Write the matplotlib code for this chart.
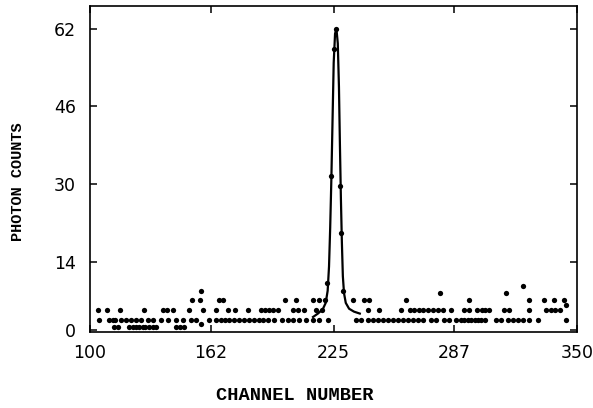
import numpy as np
import matplotlib
matplotlib.use("Agg")
from matplotlib import pyplot as plt

# photon counts per channel, grouped by the level they sit at
ch_low = [112.5, 114.2, 119.9, 121.9, 123.6, 125.3, 127.1, 128.4, 130.2, 132.2,
          133.9, 144.2, 146.4, 148.4]
cnt_low = [0.5] * len(ch_low)

ch_two = [104.5, 109.9, 111.7, 113.0, 115.9, 118.5, 121.1, 123.6, 126.2, 129.6,
          132.2, 136.5, 139.9, 144.2, 147.9, 151.9, 154.4, 157.0, 161.0, 164.7,
          167.3, 169.5, 171.5, 174.1, 176.7, 179.2, 181.8, 184.4, 186.6, 188.7,
          191.2, 194.6, 198.6, 201.5, 204.1, 207.5, 210.9, 214.3, 217.7, 222.0,
          236.6, 239.1, 242.6, 245.2, 247.7, 250.3, 252.9, 255.4, 258.0, 260.6,
          263.1, 265.7, 268.3, 271.1, 275.1, 277.7, 281.9, 284.5, 287.9, 290.5,
          292.2, 294.0, 295.7, 297.4, 299.1, 300.8, 303.0, 308.4, 311.0, 314.4,
          317.0, 319.6, 322.1, 325.5, 329.9, 344.4]
cnt_two = [2] * len(ch_two)
cnt_two[17] = 1.2

ch_four = [104.0, 108.6, 115.4, 127.9, 137.7, 139.4, 142.8, 151.0, 157.9, 164.7,
           171.0, 174.5, 181.0, 188.0, 190.0, 192.0, 194.0, 196.5, 204.0, 207.0,
           210.0, 216.0, 219.0, 242.6, 248.5, 259.7, 264.3, 266.5, 269.1, 271.1,
           273.4, 275.9, 278.5, 281.1, 285.3, 292.2, 294.7, 298.5, 301.0, 303.0,
           305.0, 312.4, 315.2, 325.4, 334.1, 336.5, 338.8, 341.2]
cnt_four = [4] * len(ch_four)

ch_six = [152.4, 156.6, 166.4, 168.1, 200.1, 205.8, 214.3, 217.8, 220.8,
          235.2, 240.8, 243.4, 262.2, 294.7, 325.5, 333.2, 338.4, 343.2]
cnt_six = [6] * len(ch_six)

ch_high = [156.8, 279.5, 313.5, 322.5, 344.3]
cnt_high = [8, 7.5, 7.5, 9, 5]

ch_peak = [221.7, 223.9, 225.2, 226.5, 228.2, 228.6, 229.7]
cnt_peak = [9.5, 31.6, 57.8, 62, 29.5, 19.9, 7.9]

# fitted line
fit_ch = [214.5, 217, 219.5, 221, 222, 222.7, 223.3, 223.9, 224.5, 225.1, 225.8,
          226.5, 227.2, 227.8, 228.3, 228.8, 229.3, 229.8, 230.4, 231.3, 233,
          235.5, 238.5]
fit_cnt = [2.6, 3.3, 4.2, 5.5, 8, 13, 21, 31, 43, 55, 61, 62, 59, 50, 38, 27,
           18, 11, 7.5, 5.5, 4.3, 3.7, 3.3]

xticks = [100, 162, 225, 287, 350]
yticks = [0, 14, 30, 46, 62]

ch = np.concatenate([ch_low, ch_two, ch_four, ch_six, ch_high, ch_peak])
cnt = np.concatenate([cnt_low, cnt_two, cnt_four, cnt_six, cnt_high, cnt_peak])

fig = plt.figure(figsize=(5.93, 4.08), dpi=100)
ax = fig.add_axes([90 / 593, 76 / 408, 487 / 593, 326 / 408])

ax.plot(ch, cnt, 'o', color='black', ms=3.8, mec='none')
ax.plot(fit_ch, fit_cnt, '-', color='black', lw=1.6)

ax.set_xlim(100, 350)
ax.set_ylim(-0.5, 66.7)
ax.set_xticks(xticks)
ax.set_yticks(yticks)
ax.tick_params(direction='in', length=5, width=1.1, top=True, right=True,
               labelsize=12.5)
ax.tick_params(axis='y', pad=10)
ax.tick_params(axis='x', pad=9)
for s in ax.spines.values():
    s.set_linewidth(1.2)

fig.text(295 / 593, 1 - 396 / 408, "CHANNEL NUMBER", family="Liberation Mono",
         fontsize=13.5, weight="bold", ha="center", va="center")
fig.text(18 / 593, 1 - 182 / 408, "PHOTON COUNTS", family="Liberation Mono",
         fontsize=11, weight="bold", ha="center", va="center", rotation=90)

fig.savefig("out.png")
